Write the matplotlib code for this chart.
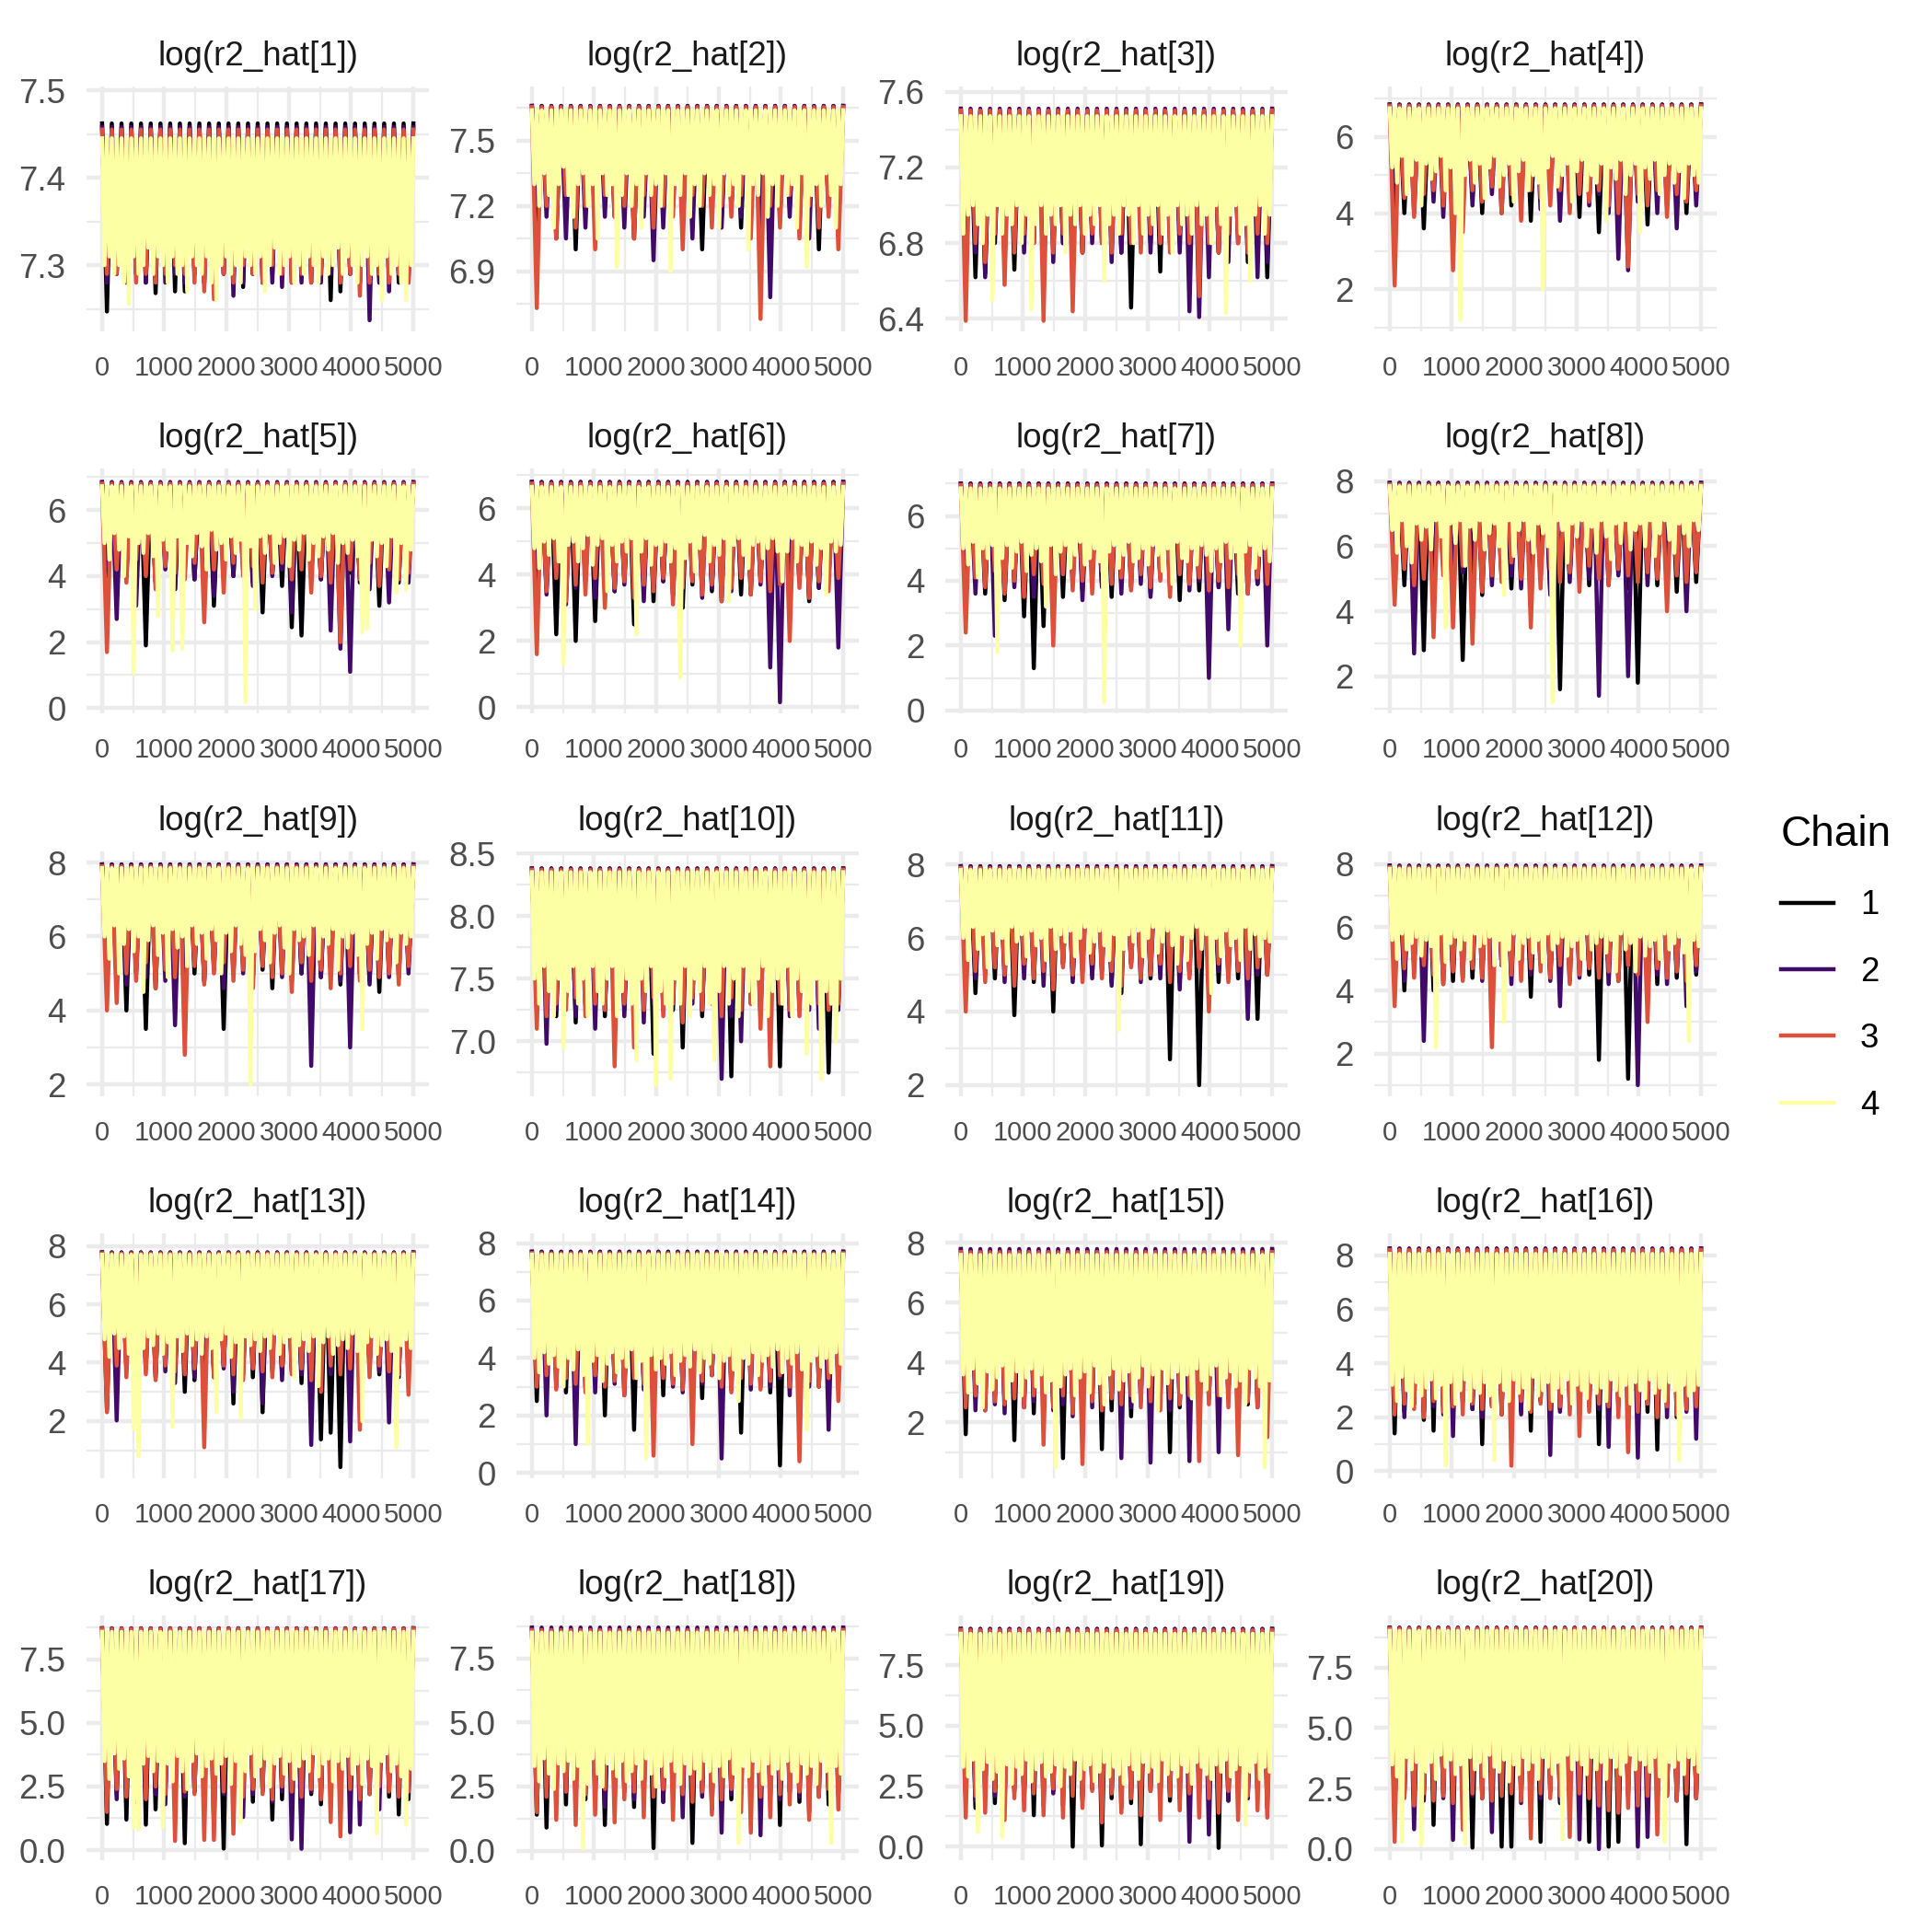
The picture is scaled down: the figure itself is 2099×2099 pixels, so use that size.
import numpy as np
import matplotlib
matplotlib.use("Agg")
import matplotlib.pyplot as plt
from matplotlib.lines import Line2D

plt.rcParams['font.family'] = ['Liberation Sans', 'DejaVu Sans']

CHAINS = ["1", "2", "3", "4"]
CHAIN_COLORS = ["#000004", "#420A68", "#DD513A", "#FCFFA4"]
N_ITER = 5000
X_TICKS = [0, 1000, 2000, 3000, 4000, 5000]

TITLES = ["log(r2_hat[%d])" % i for i in range(1, 21)]

# observed (min, max) of the plotted values in each panel
YRANGE = [(7.237, 7.4915), (6.674, 7.698), (6.393, 7.568), (1.19, 7.03),
          (0.18, 6.92), (0.15, 6.87), (0.25, 7.12), (1.2, 8.05),
          (1.98, 8.0), (6.65, 8.427), (2.0, 8.05), (1.0, 8.05),
          (0.42, 8.05), (0.2, 7.95), (0.5, 7.95), (0.15, 8.4),
          (0.04, 8.79), (0.06, 8.74), (-0.1, 9.1), (0.0, 9.2)]

YTICKS = [["7.3", "7.4", "7.5"], ["6.9", "7.2", "7.5"], ["6.4", "6.8", "7.2", "7.6"],
          ["2", "4", "6"], ["0", "2", "4", "6"], ["0", "2", "4", "6"], ["0", "2", "4", "6"],
          ["2", "4", "6", "8"], ["2", "4", "6", "8"], ["7.0", "7.5", "8.0", "8.5"],
          ["2", "4", "6", "8"], ["2", "4", "6", "8"], ["2", "4", "6", "8"],
          ["0", "2", "4", "6", "8"], ["2", "4", "6", "8"], ["0", "2", "4", "6", "8"],
          ["0.0", "2.5", "5.0", "7.5"], ["0.0", "2.5", "5.0", "7.5"],
          ["0.0", "2.5", "5.0", "7.5"], ["0.0", "2.5", "5.0", "7.5"]]

# upper level reached by each chain (chains 1..4) in each panel
TOP_01 = [7.462, 7.458, 7.455, 7.445]
TOP_02 = [7.66, 7.66, 7.655, 7.64]
TOP_03 = [7.50, 7.51, 7.50, 7.47]
TOP_04 = [6.85, 6.85, 6.82, 6.75]
TOP_05 = [6.82, 6.85, 6.80, 6.72]
TOP_06 = [6.80, 6.80, 6.75, 6.65]
TOP_07 = [7.00, 7.00, 6.95, 6.85]
TOP_08 = [7.95, 7.95, 7.90, 7.85]
TOP_09 = [7.95, 7.95, 7.90, 7.85]
TOP_10 = [8.38, 8.38, 8.37, 8.35]
TOP_11 = [7.95, 7.95, 7.90, 7.85]
TOP_12 = [7.95, 7.95, 7.90, 7.85]
TOP_13 = [7.78, 7.78, 7.75, 7.70]
TOP_14 = [7.70, 7.70, 7.65, 7.60]
TOP_15 = [7.75, 7.80, 7.70, 7.60]
TOP_16 = [8.25, 8.25, 8.20, 8.05]
TOP_17 = [8.72, 8.72, 8.70, 8.58]
TOP_18 = [8.65, 8.70, 8.60, 8.50]
TOP_19 = [9.00, 9.00, 8.95, 8.80]
TOP_20 = [9.15, 9.15, 9.12, 9.02]

# successive low points of each chain (chains 1..4), left to right
LOW_01 = [
    [7.247, 7.29, 7.28, 7.29, 7.28, 7.268, 7.29, 7.27, 7.27, 7.29, 7.28, 7.29, 7.29, 7.28, 7.275, 7.29, 7.28, 7.29, 7.29, 7.28, 7.29, 7.28, 7.29, 7.26, 7.27, 7.29, 7.28, 7.29, 7.28, 7.29, 7.28, 7.29],
    [7.28, 7.29, 7.28, 7.29, 7.28, 7.29, 7.28, 7.29, 7.28, 7.29, 7.28, 7.27, 7.29, 7.265, 7.28, 7.29, 7.28, 7.28, 7.275, 7.29, 7.28, 7.29, 7.28, 7.29, 7.28, 7.29, 7.28, 7.237, 7.28, 7.27, 7.29, 7.28],
    [7.29, 7.29, 7.30, 7.28, 7.29, 7.28, 7.29, 7.30, 7.29, 7.28, 7.27, 7.261, 7.29, 7.28, 7.30, 7.29, 7.28, 7.30, 7.29, 7.28, 7.29, 7.28, 7.29, 7.30, 7.28, 7.29, 7.265, 7.28, 7.29, 7.28, 7.29, 7.28],
    [7.30, 7.31, 7.29, 7.30, 7.28, 7.256, 7.31, 7.29, 7.30, 7.32, 7.29, 7.31, 7.30, 7.28, 7.31, 7.29, 7.30, 7.27, 7.31, 7.30,
     7.29, 7.31, 7.28, 7.26, 7.30, 7.31, 7.29, 7.30, 7.28, 7.31, 7.30, 7.29, 7.31, 7.27, 7.30, 7.32, 7.29, 7.30, 7.31, 7.28,
     7.30, 7.29, 7.31, 7.30, 7.28, 7.31, 7.29, 7.30, 7.32, 7.29, 7.31, 7.30, 7.28, 7.30, 7.31, 7.29, 7.30, 7.26, 7.31, 7.29,
     7.30, 7.28, 7.26, 7.30]]
LOW_02 = [
    [7.10, 7.20, 7.05, 7.15, 7.00, 7.20, 7.10, 7.25, 7.15, 7.20, 7.05, 7.25, 7.20, 7.15, 7.25, 7.10, 7.20, 7.00, 7.25, 7.15, 7.20, 7.10, 7.25, 7.20, 7.05, 7.15, 7.20, 7.10, 7.25, 7.00, 7.20, 7.15],
    [7.20, 7.15, 7.25, 7.05, 7.20, 7.10, 7.25, 7.15, 7.20, 7.10, 7.20, 7.15, 6.95, 7.10, 7.20, 7.15, 7.05, 7.20, 7.25, 7.10, 7.20, 7.15, 7.25, 7.05, 6.78, 7.20, 7.15, 7.25, 7.05, 7.15, 7.20, 7.10],
    [6.73, 7.20, 7.05, 7.25, 7.10, 7.20, 7.00, 7.25, 7.15, 7.20, 7.05, 7.25, 7.10, 7.20, 7.15, 7.00, 7.25, 7.20, 7.10, 7.20, 7.15, 7.25, 7.05, 6.68, 7.20, 7.10, 7.25, 7.05, 7.20, 7.10, 7.15, 7.00],
    [7.30, 7.20, 7.35, 7.25, 7.10, 7.30, 7.38, 7.25, 7.15, 7.30, 7.35, 7.20, 7.30, 7.05, 7.35, 7.25, 7.30, 6.92, 7.25, 7.35,
     7.20, 7.30, 7.10, 7.35, 7.25, 7.30, 7.20, 7.35, 6.90, 7.30, 7.25, 7.35, 7.15, 7.30, 7.20, 7.35, 7.25, 7.30, 7.10, 7.35,
     7.25, 7.30, 7.20, 7.35, 7.00, 7.30, 7.25, 7.35, 7.15, 7.30, 7.20, 7.35, 7.25, 7.30, 7.10, 7.35, 6.92, 7.25, 7.30, 7.20,
     7.35, 7.25, 7.10, 7.30]]
LOW_03 = [
    [6.80, 6.62, 6.64, 6.80, 6.75, 6.66, 6.85, 6.80, 6.75, 6.85, 6.80, 6.85, 6.75, 6.85, 6.80, 6.85, 6.75, 6.46, 6.85, 6.80, 6.65, 6.80, 6.85, 6.75, 6.80, 6.85, 6.75, 6.80, 6.85, 6.70, 6.80, 6.62],
    [6.80, 6.75, 6.62, 6.85, 6.70, 6.80, 6.75, 6.85, 6.80, 6.70, 6.80, 6.85, 6.75, 6.80, 6.85, 6.70, 6.75, 6.80, 6.85, 6.75, 6.80, 6.85, 6.75, 6.44, 6.41, 6.62, 6.75, 6.70, 6.80, 6.75, 6.62, 6.70],
    [6.39, 6.80, 6.70, 6.85, 6.58, 6.75, 6.85, 6.80, 6.39, 6.75, 6.85, 6.44, 6.75, 6.85, 6.80, 6.75, 6.85, 6.80, 6.75, 6.85, 6.80, 6.75, 6.85, 6.80, 6.52, 6.80, 6.75, 6.85, 6.80, 6.75, 6.85, 6.80],
    [6.85, 6.95, 7.00, 6.90, 6.80, 6.95, 6.50, 7.00, 6.85, 6.95, 6.90, 7.00, 6.80, 6.95, 6.45, 6.90, 7.00, 6.85, 6.95, 6.90,
     7.00, 6.75, 6.95, 6.90, 7.00, 6.85, 6.95, 6.90, 7.00, 6.60, 6.90, 6.95, 6.85, 7.00, 6.95, 6.80, 7.00, 6.85, 6.95, 6.90,
     7.00, 6.85, 6.95, 6.75, 7.00, 6.90, 6.95, 6.85, 7.00, 6.90, 6.95, 6.80, 7.00, 6.90, 6.43, 6.95, 7.00, 6.85, 6.90, 6.60,
     6.95, 7.00, 6.85, 6.95]]
LOW_04 = [
    [4.5, 4.0, 4.6, 3.6, 4.8, 4.2, 3.9, 4.7, 4.4, 4.0, 4.8, 4.5, 4.2, 4.6, 3.8, 4.5, 4.7, 4.2, 4.5, 3.9, 4.6, 3.5, 4.4, 4.7, 4.2, 4.6, 3.7, 4.5, 4.2, 4.6, 4.0, 4.5],
    [3.2, 4.5, 4.0, 4.7, 4.3, 3.9, 4.6, 4.4, 4.2, 4.7, 4.5, 4.0, 4.6, 4.3, 4.7, 4.1, 4.5, 3.8, 4.4, 4.6, 4.2, 4.5, 4.0, 2.8, 2.5, 4.3, 4.6, 4.0, 4.5, 3.6, 4.5, 4.2],
    [2.1, 4.4, 3.9, 4.5, 4.6, 4.2, 2.5, 3.5, 4.6, 4.3, 4.7, 4.0, 4.5, 3.8, 4.6, 4.4, 4.2, 4.6, 4.0, 4.5, 4.3, 4.6, 4.2, 4.0, 2.6, 4.5, 4.2, 4.6, 3.9, 4.5, 4.3, 4.6],
    [5.2, 4.8, 5.5, 4.5, 5.0, 5.4, 4.2, 5.3, 4.9, 5.1, 5.5, 4.6, 5.2, 4.0, 1.2, 5.0, 5.4, 4.8, 5.3, 4.4,
     5.2, 5.5, 4.7, 5.0, 5.3, 4.3, 5.1, 5.4, 4.6, 5.0, 4.8, 2.0, 5.2, 5.5, 4.7, 5.0, 5.3, 4.3, 5.1, 5.4,
     4.6, 5.0, 4.8, 5.3, 3.8, 5.2, 4.9, 5.4, 4.5, 5.0, 5.3, 3.5, 5.2, 4.9, 5.4, 4.5, 5.0, 5.3, 4.8, 5.1,
     4.4, 5.3, 5.0, 4.8]]
LOW_05 = [
    [4.0, 3.5, 4.2, 3.9, 1.9, 3.8, 4.4, 3.6, 4.2, 3.9, 4.5, 3.1, 4.3, 4.0, 4.4, 3.8, 2.9, 4.1, 3.7, 2.45, 2.2, 4.4, 3.9, 4.2, 3.4, 4.1, 3.8, 4.3, 3.1, 4.0, 3.8, 4.2],
    [4.3, 2.7, 4.0, 3.1, 4.4, 3.8, 4.2, 3.6, 4.5, 3.9, 4.1, 3.4, 4.4, 4.0, 4.2, 3.7, 4.3, 4.0, 4.2, 2.9, 4.3, 4.1, 3.9, 2.35, 1.8, 1.1, 4.0, 3.6, 4.3, 3.2, 4.1, 3.8],
    [1.7, 4.2, 3.8, 4.5, 4.0, 3.6, 4.3, 4.1, 3.9, 4.4, 2.6, 4.2, 3.5, 4.4, 4.0, 4.3, 3.8, 4.1, 4.4, 3.9, 4.2, 3.5, 4.0, 3.8, 2.0, 4.2, 3.9, 4.4, 3.7, 4.2, 3.9, 4.1],
    [5.0, 4.5, 5.3, 4.8, 4.0, 5.2, 1.06, 5.0, 4.7, 5.3, 4.6, 2.8, 5.1, 4.8, 1.75, 5.2, 1.8, 5.0, 4.6, 5.3,
     4.9, 4.2, 5.4, 4.8, 5.0, 4.5, 5.2, 4.7, 5.1, 0.18, 4.9, 3.0, 5.2, 4.7, 5.3, 4.4, 5.0, 5.2, 4.3, 5.1,
     4.8, 5.3, 4.5, 5.0, 4.6, 5.2, 4.8, 5.3, 4.4, 5.0, 4.7, 5.1, 4.6, 2.3, 2.4, 5.1, 4.6, 5.0, 4.3, 5.2,
     3.5, 5.0, 3.6, 4.8]]
LOW_06 = [
    [3.2, 3.6, 2.2, 3.6, 2.0, 3.9, 2.6, 3.8, 3.5, 3.9, 2.5, 3.6, 3.2, 3.8, 3.4, 3.0, 3.7, 3.9, 3.5, 3.2, 3.8, 3.4, 3.6, 3.9, 3.3, 3.7, 3.5, 3.8, 3.2, 3.6, 3.9, 3.4],
    [3.8, 3.4, 3.9, 3.1, 3.6, 3.8, 3.3, 3.9, 3.5, 3.7, 3.9, 3.2, 3.6, 3.8, 3.4, 3.7, 3.9, 3.3, 3.6, 3.8, 3.5, 3.9, 3.4, 3.7, 1.2, 0.15, 3.5, 3.8, 3.3, 3.6, 3.9, 1.8],
    [1.6, 3.5, 3.9, 3.2, 3.7, 3.4, 3.9, 3.0, 3.6, 3.8, 3.3, 3.7, 3.5, 3.9, 3.1, 3.6, 3.8, 3.4, 3.7, 3.2, 3.6, 3.9, 3.4, 3.8, 3.5, 3.7, 2.0, 3.6, 3.3, 3.8, 3.5, 3.9],
    [4.8, 4.2, 5.0, 4.6, 5.1, 4.4, 1.3, 4.9, 5.0, 4.4, 4.8, 5.2, 4.3, 4.9, 5.1, 3.5, 4.9, 4.4, 5.0, 4.7,
     5.1, 2.2, 4.7, 5.1, 4.3, 4.9, 4.6, 5.0, 4.4, 4.8, 0.9, 4.5, 5.0, 4.1, 4.8, 5.2, 4.4, 4.9, 4.6, 5.1,
     3.2, 4.9, 5.1, 4.6, 4.2, 4.9, 5.0, 4.5, 4.8, 5.1, 4.7, 3.8, 4.7, 5.1, 4.4, 4.9, 4.6, 5.0, 4.3, 4.8,
     3.4, 5.0, 4.7, 4.9]]
LOW_07 = [
    [3.8, 4.2, 3.6, 4.0, 3.4, 4.1, 2.9, 1.3, 2.6, 3.0, 3.5, 4.1, 3.7, 4.2, 3.9, 3.5, 4.0, 3.8, 4.2, 3.6, 4.1, 3.9, 3.4, 4.0, 3.7, 4.2, 3.8, 4.0, 3.6, 4.1, 3.9, 4.0],
    [4.0, 3.6, 4.1, 2.3, 4.1, 3.8, 4.2, 3.5, 4.0, 3.7, 4.2, 3.9, 3.4, 4.1, 3.8, 4.2, 3.6, 4.0, 3.9, 3.5, 4.1, 3.8, 4.2, 3.7, 4.0, 1.0, 3.8, 2.5, 4.1, 3.6, 3.9, 2.0],
    [2.4, 4.1, 3.8, 4.3, 3.6, 4.0, 3.5, 4.2, 3.9, 2.0, 4.2, 3.7, 4.0, 3.6, 4.3, 3.9, 4.1, 3.7, 4.2, 3.8, 4.0, 3.5, 4.2, 3.9, 4.1, 3.7, 4.0, 3.8, 4.2, 3.6, 4.1, 3.9],
    [5.0, 4.5, 5.2, 4.1, 5.0, 4.7, 5.1, 1.8, 4.7, 5.1, 4.4, 4.9, 5.2, 4.3, 4.8, 5.0, 4.6, 3.2, 5.1, 4.2,
     4.9, 5.1, 4.4, 4.8, 5.2, 4.5, 4.7, 5.0, 4.6, 0.25, 4.9, 5.1, 4.4, 4.8, 5.2, 4.6, 4.7, 5.0, 4.5, 5.1,
     4.8, 4.3, 5.0, 3.9, 5.2, 4.7, 4.6, 5.0, 4.5, 5.1, 4.8, 4.3, 5.0, 4.6, 5.2, 4.7, 4.9, 2.0, 4.9, 5.1,
     4.4, 4.8, 5.0, 4.6]]
LOW_08 = [
    [5.2, 4.8, 5.5, 2.8, 5.0, 5.4, 4.9, 2.5, 5.3, 4.5, 5.5, 5.0, 4.7, 5.2, 4.9, 5.4, 4.6, 1.6, 5.1, 5.3, 4.8, 5.4, 5.0, 5.2, 4.7, 1.8, 5.3, 4.8, 5.1, 4.6, 5.2, 4.9],
    [5.0, 5.4, 2.7, 5.1, 4.6, 5.5, 4.9, 5.2, 4.4, 5.3, 4.8, 5.5, 5.1, 4.7, 5.4, 5.0, 4.5, 5.2, 4.9, 5.3, 5.0, 1.4, 4.8, 5.1, 2.0, 5.3, 4.8, 5.1, 4.7, 5.4, 4.0, 5.2],
    [4.2, 5.3, 4.8, 5.0, 3.2, 5.1, 3.5, 5.4, 3.0, 4.6, 5.1, 4.9, 5.5, 5.0, 3.5, 4.7, 5.3, 4.9, 5.2, 4.6, 5.4, 5.0, 4.8, 5.3, 5.1, 4.9, 5.2, 5.0, 4.0, 5.1, 4.9, 5.2],
    [6.5, 5.8, 6.8, 6.0, 5.5, 6.7, 6.2, 6.6, 5.9, 6.8, 6.3, 3.5, 6.7, 6.1, 6.8, 5.4, 6.6, 6.2, 6.8, 5.9,
     6.4, 6.7, 6.0, 4.5, 6.8, 5.7, 6.5, 6.8, 6.2, 5.8, 6.7, 6.4, 6.0, 1.2, 6.8, 6.5, 5.5, 6.7, 6.3, 6.8,
     6.0, 6.6, 5.8, 6.8, 6.3, 5.6, 6.7, 6.1, 6.8, 5.9, 6.5, 6.7, 6.0, 6.8, 5.7, 6.4, 6.8, 6.2, 5.8, 6.7,
     6.4, 6.0, 6.8, 6.5]]
LOW_09 = [
    [5.2, 4.8, 4.0, 5.0, 3.5, 4.6, 5.3, 4.9, 5.1, 5.0, 4.8, 5.2, 3.5, 5.0, 5.3, 4.9, 5.1, 4.6, 5.2, 4.8, 5.0, 5.3, 4.9, 5.1, 4.7, 5.2, 5.0, 4.8, 4.5, 5.1, 4.9, 5.2],
    [5.0, 5.3, 4.7, 5.1, 4.9, 5.2, 4.8, 3.6, 5.0, 5.3, 4.8, 5.1, 4.6, 5.2, 5.0, 4.8, 5.3, 5.1, 4.9, 5.2, 5.0, 2.5, 4.9, 5.2, 4.8, 3.0, 5.0, 4.7, 5.3, 4.9, 5.1, 5.0],
    [4.0, 4.2, 5.0, 4.8, 5.3, 4.6, 5.1, 4.9, 2.8, 5.2, 4.7, 5.0, 5.3, 4.8, 5.1, 4.6, 5.2, 4.9, 5.0, 4.5, 5.3, 4.8, 5.1, 4.6, 5.0, 5.2, 4.8, 5.1, 4.9, 5.0, 4.7, 5.2],
    [6.0, 5.4, 6.3, 5.0, 5.8, 6.2, 5.6, 6.0, 4.5, 5.9, 6.3, 5.5, 6.1, 4.9, 6.2, 5.7, 6.0, 5.2, 6.3, 5.8,
     6.1, 5.4, 6.2, 5.9, 5.0, 6.1, 5.6, 6.3, 5.8, 5.5, 2.0, 5.6, 6.2, 5.9, 5.3, 6.1, 6.3, 5.7, 5.0, 6.2,
     5.9, 6.0, 5.5, 6.3, 5.4, 6.0, 5.8, 6.2, 5.1, 6.0, 5.7, 6.1, 5.5, 3.5, 5.8, 6.1, 5.4, 6.2, 5.9, 6.0,
     5.3, 6.1, 5.8, 6.0]]
LOW_10 = [
    [7.25, 7.30, 7.20, 7.35, 7.15, 7.30, 7.40, 7.20, 7.35, 7.25, 7.30, 7.35, 6.90, 7.30, 7.25, 6.95, 7.35, 7.20, 7.30, 7.25, 6.72, 7.25, 7.35, 7.20, 7.30, 6.80, 7.30, 7.25, 7.35, 7.20, 6.75, 7.30],
    [7.30, 6.98, 7.25, 7.35, 7.20, 7.30, 7.10, 7.25, 7.35, 7.20, 7.30, 7.15, 7.30, 7.25, 7.35, 7.20, 7.30, 7.25, 7.35, 6.70, 7.20, 7.00, 7.30, 7.25, 7.15, 7.35, 7.20, 7.30, 7.25, 7.10, 7.30, 7.25],
    [7.10, 7.20, 7.30, 7.25, 7.35, 7.20, 7.30, 7.25, 6.80, 7.30, 6.95, 7.25, 7.35, 7.20, 7.30, 7.15, 7.35, 7.25, 7.30, 7.20, 7.35, 7.25, 7.30, 7.10, 6.80, 7.30, 7.25, 7.20, 7.35, 7.30, 7.25, 7.30],
    [7.50, 7.30, 7.60, 7.40, 7.20, 7.50, 6.95, 7.40, 7.60, 7.30, 7.50, 7.20, 7.60, 7.40, 7.30, 7.50, 7.60, 7.20, 7.40, 7.50,
     7.30, 6.85, 7.50, 7.40, 7.60, 6.65, 7.40, 7.30, 6.70, 7.50, 7.30, 7.60, 7.20, 7.50, 7.40, 7.60, 7.30, 6.85, 7.40, 7.60,
     7.30, 7.50, 7.20, 7.60, 7.40, 7.30, 7.50, 7.60, 7.20, 7.40, 7.50, 7.30, 7.60, 7.20, 7.50, 7.40, 6.90, 7.30, 7.50, 6.70,
     7.40, 7.30, 7.00, 7.50]]
LOW_11 = [
    [5.0, 4.5, 5.3, 4.9, 5.1, 3.9, 5.2, 4.8, 5.1, 4.0, 5.3, 4.9, 5.2, 5.0, 5.1, 4.8, 4.5, 5.3, 5.0, 4.9, 5.2, 2.7, 4.8, 5.1, 2.0, 5.2, 4.8, 5.1, 4.9, 5.0, 3.8, 5.0],
    [5.2, 4.9, 5.0, 5.3, 4.8, 5.1, 4.9, 5.2, 4.7, 5.0, 5.3, 4.8, 5.1, 4.9, 5.2, 4.7, 5.0, 5.3, 4.8, 5.1, 4.9, 5.2, 4.6, 5.0, 5.3, 4.8, 5.1, 4.9, 5.2, 3.8, 5.0, 5.2],
    [4.0, 5.1, 4.8, 5.2, 5.0, 4.7, 5.3, 4.9, 5.1, 4.6, 5.2, 5.0, 4.8, 5.3, 4.9, 5.1, 4.7, 5.2, 4.9, 5.0, 5.3, 4.8, 5.1, 4.9, 5.2, 4.0, 5.3, 4.8, 5.1, 4.9, 5.2, 5.0],
    [6.0, 5.4, 6.3, 5.7, 6.1, 5.2, 6.2, 5.8, 6.0, 5.3, 6.3, 5.9, 6.1, 5.5, 6.2, 5.8, 6.0, 5.4, 6.3, 5.7,
     6.1, 5.9, 6.2, 5.5, 6.0, 6.3, 5.6, 5.9, 6.2, 5.8, 5.4, 6.1, 3.5, 5.7, 6.1, 5.9, 6.2, 5.5, 6.0, 6.3,
     5.6, 5.9, 6.2, 5.8, 5.3, 6.1, 5.4, 6.0, 6.3, 5.7, 6.1, 4.5, 6.0, 5.5, 6.2, 5.8, 6.0, 5.4, 6.3, 5.7,
     6.1, 5.5, 6.0, 5.9]]
LOW_12 = [
    [4.5, 4.0, 4.8, 4.4, 4.0, 4.6, 4.3, 4.9, 4.4, 4.7, 4.2, 4.8, 4.5, 4.7, 3.8, 4.9, 4.4, 4.6, 4.3, 4.7, 4.5, 1.8, 4.6, 4.3, 1.2, 4.7, 4.5, 4.2, 4.8, 4.4, 4.6, 4.5],
    [4.6, 4.3, 4.8, 2.4, 4.5, 4.2, 4.7, 4.4, 4.9, 4.3, 4.6, 4.8, 4.2, 4.7, 4.5, 4.8, 4.3, 3.5, 4.6, 4.4, 4.7, 4.5, 4.2, 4.6, 4.8, 1.0, 4.7, 4.5, 4.2, 4.6, 3.5, 4.6],
    [3.5, 4.7, 4.4, 4.8, 4.5, 4.2, 4.6, 4.3, 4.7, 4.4, 2.2, 4.8, 4.5, 4.3, 4.7, 4.6, 4.4, 4.8, 4.2, 4.5, 4.7, 4.4, 4.6, 4.3, 4.8, 4.5, 3.0, 4.7, 4.4, 4.6, 4.3, 4.8],
    [5.6, 5.0, 5.8, 5.3, 5.5, 5.7, 5.1, 5.6, 5.4, 2.2, 5.8, 4.9, 5.5, 5.7, 5.3, 5.6, 5.0, 5.8, 5.4, 5.5,
     5.7, 4.8, 5.6, 3.0, 5.3, 5.8, 5.0, 5.5, 5.7, 5.2, 5.6, 4.9, 5.8, 5.3, 5.5, 5.7, 5.1, 5.4, 5.6, 5.0,
     5.8, 5.3, 5.5, 5.7, 5.2, 5.6, 4.6, 5.8, 5.3, 5.5, 4.6, 5.7, 5.1, 5.4, 5.6, 5.0, 5.8, 5.3, 5.5, 5.7,
     5.2, 2.4, 5.6, 5.4]]
LOW_13 = [
    [2.4, 3.6, 3.9, 3.4, 3.8, 3.5, 3.9, 3.7, 3.0, 3.4, 3.8, 3.5, 3.9, 2.6, 3.8, 3.5, 2.3, 3.9, 3.6, 3.7, 3.3, 3.8, 1.37, 1.6, 0.42, 3.7, 3.4, 3.8, 3.6, 3.9, 3.5, 3.7],
    [3.5, 2.02, 3.8, 3.4, 3.9, 3.6, 3.7, 3.3, 3.8, 3.5, 3.9, 3.6, 3.8, 3.0, 3.6, 3.8, 2.6, 3.7, 3.4, 3.8, 3.6, 1.18, 3.8, 3.6, 3.9, 1.3, 3.5, 3.9, 3.7, 1.95, 3.7, 3.6],
    [2.3, 3.9, 3.5, 3.8, 3.6, 3.4, 3.9, 3.7, 3.6, 3.8, 1.1, 3.5, 3.9, 3.6, 3.4, 3.8, 3.7, 3.5, 3.9, 3.6, 3.8, 3.4, 3.0, 3.9, 3.6, 3.8, 1.7, 3.5, 3.9, 3.7, 3.6, 2.9],
    [4.8, 4.2, 5.0, 4.5, 4.9, 4.3, 1.73, 0.79, 4.5, 4.9, 4.6, 5.0, 4.3, 4.7, 1.8, 4.9, 4.4, 5.0, 4.6, 4.8,
     4.3, 4.9, 4.5, 2.3, 4.8, 5.0, 4.2, 4.7, 2.1, 4.9, 4.6, 4.8, 4.4, 4.9, 4.5, 5.0, 4.3, 4.7, 4.9, 3.5,
     4.6, 4.8, 4.4, 4.9, 3.2, 4.7, 4.9, 4.3, 4.6, 4.8, 4.5, 5.0, 4.4, 2.0, 4.7, 4.9, 4.3, 4.6, 4.8, 4.4,
     1.1, 4.6, 4.8, 4.5]]
LOW_14 = [
    [2.5, 3.0, 3.4, 2.8, 3.2, 3.0, 3.3, 2.0, 3.3, 2.9, 1.5, 3.1, 3.4, 2.7, 3.2, 3.0, 3.3, 2.6, 3.4, 3.1, 2.9, 1.4, 3.2, 3.0, 2.8, 0.26, 3.2, 2.8, 3.4, 3.0, 3.3, 3.1],
    [3.2, 2.0, 3.0, 3.3, 1.0, 3.3, 2.8, 3.4, 3.1, 2.7, 3.3, 2.9, 3.2, 3.4, 3.0, 2.8, 3.3, 3.1, 3.4, 0.5, 3.1, 3.4, 2.9, 3.2, 3.0, 3.3, 2.7, 3.2, 3.0, 3.3, 1.5, 3.1],
    [3.0, 3.4, 2.9, 3.3, 3.1, 2.8, 3.4, 3.0, 3.2, 2.7, 3.3, 3.1, 0.6, 3.3, 3.1, 2.9, 1.0, 3.2, 3.4, 3.0, 2.8, 3.3, 3.1, 2.9, 3.2, 3.4, 3.0, 0.4, 3.2, 3.0, 3.3, 2.5],
    [4.0, 3.5, 4.2, 3.8, 4.1, 3.7, 3.0, 4.0, 3.6, 4.3, 3.4, 1.0, 3.9, 4.1, 3.2, 3.8, 4.2, 3.5, 4.0, 3.7,
     4.3, 3.3, 3.9, 0.5, 4.1, 3.6, 4.0, 3.8, 4.2, 3.4, 3.9, 4.1, 3.7, 4.3, 3.5, 4.0, 3.8, 4.2, 3.3, 3.9,
     4.1, 3.6, 2.5, 4.0, 3.8, 4.2, 3.4, 3.9, 4.1, 3.7, 4.3, 3.5, 4.0, 3.8, 4.2, 3.6, 1.5, 3.9, 4.1, 3.7,
     4.0, 3.5, 4.2, 3.8]]
LOW_15 = [
    [1.6, 2.8, 2.4, 2.9, 2.6, 1.4, 2.6, 2.3, 2.8, 2.5, 0.8, 2.7, 2.5, 2.9, 1.1, 2.4, 2.6, 2.2, 2.8, 2.5, 2.7, 1.0, 2.5, 2.7, 2.3, 2.8, 2.5, 2.9, 2.4, 2.6, 2.8, 2.5],
    [2.7, 2.4, 2.9, 2.6, 2.3, 2.8, 2.5, 2.7, 2.9, 2.4, 2.6, 2.2, 2.8, 2.5, 2.7, 2.9, 0.8, 2.5, 2.7, 0.65, 2.9, 2.4, 2.6, 0.7, 2.6, 2.8, 1.0, 2.8, 2.3, 2.7, 2.5, 2.6],
    [2.5, 2.9, 2.4, 2.7, 2.6, 2.8, 2.5, 2.9, 1.25, 2.5, 2.9, 2.3, 0.6, 2.7, 2.4, 2.8, 2.6, 2.9, 2.5, 2.7, 2.4, 2.8, 2.6, 2.9, 0.7, 2.6, 2.9, 2.5, 0.9, 2.7, 2.5, 1.5],
    [3.6, 3.0, 3.8, 3.3, 2.5, 3.7, 3.1, 3.5, 3.9, 2.8, 3.4, 3.7, 2.9, 3.5, 3.8, 3.2, 3.6, 3.0, 3.4, 0.5,
     3.2, 3.6, 3.8, 2.9, 3.5, 3.7, 3.0, 3.9, 3.3, 2.6, 3.6, 3.8, 3.1, 3.4, 3.7, 2.7, 3.5, 3.9, 3.2, 3.6,
     2.4, 3.8, 3.3, 3.5, 3.7, 3.0, 3.6, 2.8, 3.8, 3.4, 3.1, 3.6, 3.9, 2.9, 3.5, 3.7, 3.2, 3.4, 2.6, 3.8,
     3.5, 3.2, 0.5, 3.4]]
LOW_16 = [
    [1.4, 2.2, 2.5, 1.9, 1.5, 2.4, 2.0, 2.6, 2.3, 1.0, 2.5, 2.1, 2.4, 2.2, 1.5, 2.6, 1.9, 2.3, 2.5, 2.1, 2.4, 1.0, 2.3, 2.5, 2.1, 2.4, 2.2, 0.8, 2.5, 2.0, 2.3, 2.2],
    [2.3, 2.0, 2.5, 2.2, 2.4, 2.1, 1.3, 2.6, 2.3, 2.0, 2.4, 2.2, 2.5, 2.1, 2.3, 2.6, 0.6, 2.2, 2.4, 2.1, 2.5, 2.3, 0.9, 2.4, 2.1, 0.5, 2.5, 2.3, 2.0, 2.4, 2.2, 1.2],
    [2.1, 2.5, 2.3, 2.0, 2.6, 2.2, 2.4, 2.1, 2.5, 2.3, 2.4, 2.1, 0.2, 2.6, 2.2, 2.5, 2.3, 2.4, 2.1, 1.3, 2.2, 2.5, 2.4, 2.0, 0.7, 2.2, 2.5, 2.0, 2.4, 2.1, 2.3, 2.4],
    [3.2, 2.6, 3.5, 3.0, 2.4, 3.3, 2.8, 3.1, 3.4, 2.7, 3.2, 0.2, 3.3, 2.5, 3.0, 3.4, 2.6, 3.1, 2.9, 3.3,
     2.8, 0.4, 3.3, 3.0, 2.6, 3.4, 2.9, 3.1, 2.3, 3.5, 2.8, 3.0, 3.3, 2.6, 3.1, 2.9, 3.4, 2.5, 3.2, 3.0,
     2.7, 3.3, 2.9, 3.1, 2.6, 3.4, 3.0, 2.8, 3.2, 2.5, 3.3, 3.0, 2.7, 3.4, 2.9, 3.1, 2.6, 3.3, 3.0, 0.4,
     3.2, 2.8, 3.0, 3.2]]
LOW_17 = [
    [1.03, 2.2, 1.2, 2.4, 1.0, 1.6, 2.3, 2.0, 0.27, 2.3, 2.1, 0.95, 0.06, 2.1, 2.5, 1.9, 2.3, 1.2, 2.0, 2.4, 0.8, 2.2, 1.8, 2.5, 2.1, 2.3, 2.0, 2.4, 2.2, 2.1, 1.4, 2.0],
    [2.4, 2.0, 2.3, 1.9, 2.5, 2.2, 1.8, 2.4, 2.1, 2.3, 2.0, 2.5, 2.2, 2.4, 1.3, 2.2, 2.4, 1.9, 2.3, 0.42, 0.05, 2.3, 2.0, 2.4, 2.1, 0.7, 1.0, 2.2, 1.6, 2.4, 2.1, 2.3],
    [1.5, 2.4, 2.1, 2.3, 2.0, 2.5, 2.2, 0.36, 2.3, 2.2, 0.4, 0.4, 2.3, 0.64, 2.1, 2.4, 2.2, 2.0, 2.5, 2.3, 2.1, 2.4, 2.0, 1.1, 0.54, 2.4, 2.0, 2.2, 2.5, 2.3, 2.1, 2.3],
    [3.5, 2.8, 3.8, 3.2, 3.6, 2.9, 0.9, 0.8, 3.4, 3.7, 3.1, 3.5, 0.9, 3.4, 2.7, 3.7, 3.1, 2.4, 3.5, 3.8,
     2.9, 3.3, 3.6, 3.0, 3.4, 3.7, 2.6, 3.5, 1.09, 3.1, 3.8, 2.9, 3.3, 3.6, 2.5, 3.4, 3.7, 3.0, 3.5, 2.8,
     3.3, 3.6, 3.1, 3.8, 2.9, 3.4, 3.6, 2.7, 3.5, 3.2, 3.7, 3.0, 3.4, 2.6, 3.6, 3.3, 0.66, 3.5, 3.8, 3.1,
     3.4, 2.9, 1.0, 3.2]]
LOW_18 = [
    [1.4, 0.9, 2.2, 1.8, 2.4, 2.0, 2.3, 1.0, 2.0, 2.3, 1.7, 2.2, 0.1, 1.9, 2.4, 2.1, 0.3, 2.3, 1.6, 2.4, 2.0, 2.2, 1.9, 2.3, 2.1, 1.0, 2.3, 1.9, 2.1, 2.4, 1.8, 2.2],
    [2.2, 2.4, 1.9, 2.3, 2.0, 2.5, 2.1, 1.7, 2.3, 2.4, 2.0, 2.2, 2.4, 1.9, 2.3, 1.3, 2.4, 2.1, 2.3, 0.7, 2.2, 2.4, 2.0, 0.6, 2.2, 2.0, 2.3, 2.1, 1.5, 2.1, 2.4, 2.2],
    [1.5, 2.1, 1.2, 2.3, 1.0, 2.2, 1.4, 2.4, 1.1, 2.0, 2.3, 1.3, 2.1, 2.4, 1.2, 2.2, 1.9, 2.3, 1.4, 2.0, 2.4, 1.5, 0.7, 2.1, 1.3, 2.2, 1.8, 2.3, 1.2, 2.1, 2.4, 1.6],
    [3.3, 2.7, 3.6, 3.0, 2.4, 3.4, 3.1, 3.5, 2.8, 3.3, 0.1, 2.6, 3.6, 3.0, 2.5, 3.4, 3.2, 2.9, 3.5, 2.7,
     3.1, 3.4, 2.8, 3.6, 3.0, 2.5, 3.3, 2.9, 3.5, 3.1, 2.6, 3.4, 3.0, 3.2, 2.8, 3.5, 3.1, 2.7, 3.3, 2.9,
     3.6, 3.0, 0.3, 3.3, 2.9, 3.5, 3.1, 2.6, 3.4, 3.0, 3.2, 2.8, 3.5, 3.1, 2.7, 3.4, 3.0, 3.3, 2.6, 3.5,
     3.1, 0.3, 3.3, 3.0]]
LOW_19 = [
    [2.0, 1.6, 2.3, 1.8, 2.1, 2.4, 1.9, 1.3, 2.2, 2.3, 1.7, 0.0, 2.1, 2.4, 0.05, 2.0, 2.2, 1.8, 0.1, 2.3, 2.1, 1.9, 2.4, 2.0, 2.2, 1.6, -0.05, 1.9, 2.4, 2.0, 2.3, 1.6],
    [2.2, 1.9, 2.4, 2.1, 1.8, 2.3, 2.0, 2.4, 1.7, 2.2, 2.1, 2.3, 1.9, 2.4, 2.0, 2.2, 1.6, 2.3, 2.1, 2.4, 1.9, 2.2, 2.0, 0.2, 2.3, 0.5, 2.2, 1.9, 2.4, 2.0, 2.3, 2.1],
    [1.2, 2.1, 1.4, 2.3, 1.1, 2.0, 1.5, 2.2, 1.3, 2.4, 1.2, 2.1, 1.6, 2.3, 1.0, 2.2, 1.4, 2.0, 1.3, 2.3, 1.1, 2.1, 1.5, 2.2, 1.2, 2.0, 1.4, 2.3, 1.1, 2.1, 1.5, 1.2],
    [3.3, 2.9, 3.6, 0.6, 3.2, 3.5, 2.8, 3.1, 0.4, 3.4, 2.6, 3.3, 3.0, 3.6, 2.7, 3.2, 3.5, 2.9, 3.1, 3.4,
     2.5, 3.3, 3.0, 3.6, 2.8, 3.2, 3.4, 2.7, 3.1, 3.5, 2.9, 3.3, 3.0, 2.6, 3.4, 3.2, 2.8, 3.5, 3.1, 3.3,
     2.7, 3.6, 3.0, 3.2, 2.9, 3.4, 3.1, 2.6, 3.5, 3.3, 3.0, 2.8, 3.4, 3.1, 3.6, 2.9, 3.2, 3.4, 0.9, 3.1,
     3.5, 2.8, 3.3, 3.1]]
LOW_20 = [
    [1.5, 2.2, 1.8, 2.4, 1.0, 2.3, 2.0, 2.4, 0.06, 2.1, 2.3, 0.1, 0.1, 2.2, 2.4, 0.3, 2.4, 1.9, 2.3, 2.1, 0.3, 2.2, 0.1, 0.3, 2.2, 2.0, 2.4, 1.8, 2.2, 2.1, 0.2, 2.1],
    [1.4, 2.2, 0.82, 2.0, 2.4, 2.1, 0.38, 2.3, 2.2, 2.4, 0.7, 2.2, 2.4, 1.9, 2.3, 2.1, 2.4, 2.0, 2.3, 0.4, 2.2, 0.0, 2.3, 2.1, 2.4, 0.1, 0.5, 2.2, 2.4, 2.0, 2.3, 2.2],
    [0.3, 2.1, 1.8, 2.3, 2.0, 2.2, 1.9, 0.8, 2.3, 2.1, 2.0, 2.2, 2.3, 2.0, 0.44, 2.3, 2.1, 2.2, 0.5, 2.3, 2.1, 1.8, 1.6, 1.5, 1.7, 1.8, 2.2, 0.6, 2.2, 2.0, 2.3, 2.1],
    [3.5, 3.0, 0.3, 3.8, 3.3, 3.6, 0.19, 3.2, 3.6, 2.9, 3.9, 3.4, 3.7, 3.1, 3.5, 0.2, 3.8, 3.3, 3.6, 3.0,
     3.9, 3.4, 3.2, 3.7, 2.8, 3.5, 3.1, 3.8, 3.3, 3.6, 2.9, 3.8, 3.4, 3.1, 3.6, 0.4, 3.9, 3.3, 3.7, 3.5,
     3.1, 3.8, 3.3, 3.6, 2.9, 3.8, 3.4, 3.1, 3.6, 3.9, 3.3, 3.7, 3.5, 3.2, 3.8, 3.0, 0.3, 3.6, 3.4, 3.7,
     3.1, 3.8, 3.5, 3.2]]

TOPS = [TOP_01, TOP_02, TOP_03, TOP_04, TOP_05, TOP_06, TOP_07, TOP_08, TOP_09, TOP_10,
        TOP_11, TOP_12, TOP_13, TOP_14, TOP_15, TOP_16, TOP_17, TOP_18, TOP_19, TOP_20]
LOWS = [LOW_01, LOW_02, LOW_03, LOW_04, LOW_05, LOW_06, LOW_07, LOW_08, LOW_09, LOW_10,
        LOW_11, LOW_12, LOW_13, LOW_14, LOW_15, LOW_16, LOW_17, LOW_18, LOW_19, LOW_20]

# ---------------------------------------------------------------- layout
W = H = 2099
DPI = 300
fig = plt.figure(figsize=(W / DPI, H / DPI), dpi=DPI)
fig.patch.set_facecolor("white")

COL_LEFT = [94, 561, 1027, 1493]
ROW_TOP = [94, 509, 925, 1340, 1755]
PW, PH = 372, 266
LW = 1.07
GRID = "#EBEBEB"
TXT = "#4D4D4D"

x_lo = 1 - 0.05 * (N_ITER - 1)
x_hi = N_ITER + 0.05 * (N_ITER - 1)

for i in range(20):
    r, c = divmod(i, 4)
    ax = fig.add_axes([COL_LEFT[c] / W, 1 - (ROW_TOP[r] + PH) / H, PW / W, PH / H])
    ax.set_facecolor("white")
    for ch in range(4):
        lows = np.asarray(LOWS[i][ch], dtype=float)
        n = len(lows)
        vals = np.empty(2 * n + 1)
        vals[0::2] = TOPS[i][ch]
        vals[1::2] = lows
        iters = np.linspace(1, N_ITER, 2 * n + 1)
        ax.plot(iters, vals, color=CHAIN_COLORS[ch], lw=LW, solid_joinstyle="round",
                label=CHAINS[ch], zorder=2 + ch)
    lo, hi = YRANGE[i]
    pad = 0.05 * (hi - lo)
    ax.set_xlim(x_lo, x_hi)
    ax.set_ylim(lo - pad, hi + pad)

    yt = [float(s) for s in YTICKS[i]]
    step = yt[1] - yt[0]
    yminor = [yt[0] - step / 2] + [v + step / 2 for v in yt]
    yminor = [v for v in yminor if lo - pad <= v <= hi + pad]
    ax.set_yticks(yt)
    ax.set_yticklabels(YTICKS[i])
    ax.set_yticks(yminor, minor=True)
    ax.set_xticks(X_TICKS)
    ax.set_xticklabels([str(v) for v in X_TICKS])
    ax.set_xticks([500, 1500, 2500, 3500, 4500], minor=True)

    ax.grid(which="major", color=GRID, lw=LW)
    ax.grid(which="minor", color=GRID, lw=LW / 2)
    ax.set_axisbelow(True)
    for s in ax.spines.values():
        s.set_visible(False)
    ax.tick_params(which="both", length=0, labelcolor=TXT)
    ax.tick_params(axis="y", labelsize=8.8, pad=5.4)
    ax.tick_params(axis="x", labelsize=7.0, pad=6.2)
    ax.set_title(TITLES[i], fontsize=8.8, color="#1A1A1A", pad=5.5)

handles = [Line2D([0], [0], color=CHAIN_COLORS[k], lw=LW) for k in range(4)]
leg = fig.legend(handles, CHAINS, title="Chain", loc="upper left",
                 bbox_to_anchor=(1935 / W, 1 - 885 / H), frameon=False,
                 fontsize=8.8, title_fontsize=11, handlelength=1.555,
                 handletextpad=0.79, labelspacing=1.02, borderpad=0,
                 borderaxespad=0, alignment="left")
for t in leg.get_texts():
    t.set_color("black")

fig.savefig("out.png", dpi=DPI, facecolor="white")
